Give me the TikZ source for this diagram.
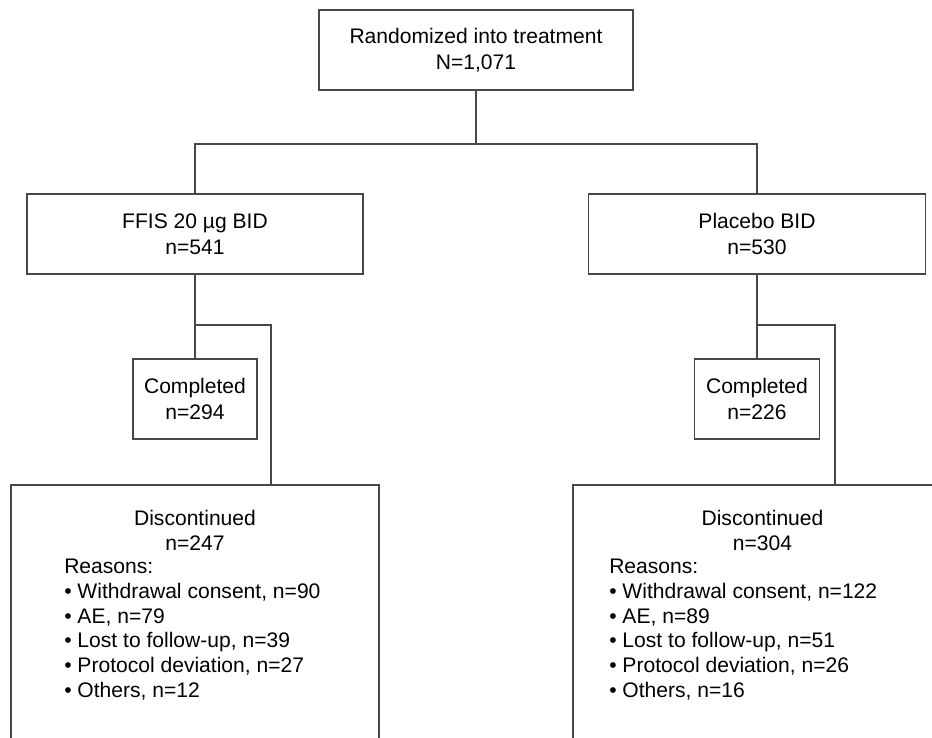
\documentclass[tikz,border=0pt]{standalone}
\usepackage{fontspec}
\setmainfont{Liberation Sans}
\usetikzlibrary{positioning,calc}

\begin{document}
\begin{tikzpicture}[x=0.75pt, y=-0.75pt,
    font=\fontsize{15.8}{19.2}\selectfont,
    box/.style={draw=black!72, line width=1pt, inner sep=0pt, outer sep=0pt,
      align=center, minimum height=60pt},
    link/.style={draw=black!72, line width=1pt},
    heading/.style={anchor=north, align=center, inner sep=0pt},
    reasons/.style={anchor=north west, align=left, inner sep=0pt,
      font=\fontsize{15.8}{18.5}\selectfont}]
  \useasboundingbox (0,0) rectangle (932,738);
  \clip (0,0) rectangle (932,738);
  % randomization
  \node[box, minimum width=235.5pt] (rand) at (476,50) {Randomized into treatment\\N=1,071};
  % treatment arms
  \node[box, minimum width=252pt] (ffis) at (195,234) {FFIS 20 µg BID\\n=541};
  \node[box, minimum width=252.75pt] (plc) at (757,234) {Placebo BID\\n=530};
  \coordinate (split) at (476,144);
  \draw[link] (rand) -- (split);
  \draw[link] (ffis) |- (split) -| (plc);
  % completed
  \node[box, minimum width=93pt] (compA) at (195,399) {Completed\\n=294};
  \node[box, minimum width=93.75pt] (compB) at (757,399) {Completed\\n=226};
  % discontinued (boxes run past the lower edge)
  \node[box, minimum width=276pt, minimum height=210pt, anchor=north] (discA) at (195,485) {};
  \node[box, minimum width=284.25pt, minimum height=210pt, anchor=north] (discB) at (762.5,485) {};
  \node[heading] (discAhead) at (195,509.5) {Discontinued\\n=247};
  \node[heading] (discBhead) at (762.5,509.5) {Discontinued\\n=304};
  \node[reasons] (discAlist) at (64,559) {Reasons:\\
    • Withdrawal consent, n=90\\
    • AE, n=79\\
    • Lost to follow-up, n=39\\
    • Protocol deviation, n=27\\
    • Others, n=12};
  \node[reasons] (discBlist) at (609,559) {Reasons:\\
    • Withdrawal consent, n=122\\
    • AE, n=89\\
    • Lost to follow-up, n=51\\
    • Protocol deviation, n=26\\
    • Others, n=16};
  % arm splits
  \coordinate (forkA) at (195,325);
  \coordinate (forkB) at (757,325);
  \draw[link] (ffis) -- (compA);
  \draw[link] (plc) -- (compB);
  \draw[link] (forkA) -| ([xshift=57pt]discA.north);
  \draw[link] (forkB) -| ([xshift=54.4pt]discB.north);
\end{tikzpicture}
\end{document}
